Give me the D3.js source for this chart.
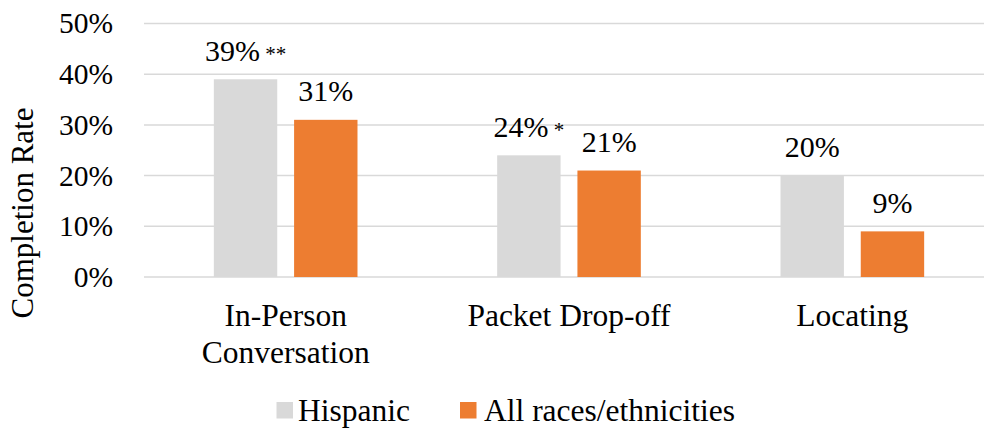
<!DOCTYPE html>
<html><head><meta charset="utf-8">
<script src="https://cdn.jsdelivr.net/npm/d3@7"></script>
<style>body{margin:0;background:#fff}svg{display:block}</style>
</head><body>
<svg id="c" width="984" height="430"></svg>
<script>
const categories = [["In-Person","Conversation"],["Packet Drop-off"],["Locating"]];
const seriesNames = ["Hispanic","All races/ethnicities"];
const hispanic = [39, 24, 20];
const allRaces = [31, 21, 9];
const hispanicMarks = ["**", "*", ""];
const allMarks = ["", "", ""];
const yTicks = [0, 10, 20, 30, 40, 50];
const colors = ["#D9D9D9", "#ED7D31"];

const FONT = "'Liberation Serif', 'Times New Roman', serif";
const svg = d3.select("#c").style("font-family", FONT);
const y = d3.scaleLinear().domain([0, 50]).range([277, 23.5]);
const x0 = d3.scaleBand().domain(d3.range(categories.length)).range([144, 994]).paddingInner(0.493).paddingOuter(0.2465);
const x1 = d3.scaleBand().domain([0, 1]).range([0, x0.bandwidth()]).paddingInner(0.21);

// gridlines
svg.append("g").selectAll("line").data(yTicks).join("line")
  .attr("x1", 144).attr("x2", 984)
  .attr("y1", d => y(d)).attr("y2", d => y(d))
  .attr("stroke", "#D9D9D9").attr("stroke-width", 1.5);

// y axis
const yAxis = d3.axisLeft(y).tickValues(yTicks).tickFormat(d => d + "%").tickSize(0).tickPadding(0);
const ya = svg.append("g").attr("transform", "translate(113,0)").call(yAxis);
ya.attr("font-family", null).attr("font-size", null);
ya.select(".domain").remove();
ya.selectAll("text").style("font-size", "29.5px").style("font-family", FONT).attr("fill", "#000");

// y title
svg.append("text").attr("transform", "translate(33,213) rotate(-90)")
  .attr("text-anchor", "middle").style("font-family", FONT).style("font-size", "31px").text("Completion Rate");

const series = [hispanic, allRaces];
const marks = [hispanicMarks, allMarks];
series.forEach((vals, s) => {
  const g = svg.append("g");
  g.selectAll("rect").data(vals).join("rect")
    .attr("x", (d, i) => x0(i) + x1(s)).attr("width", x1.bandwidth())
    .attr("y", d => y(d)).attr("height", d => y(0) - y(d))
    .attr("fill", colors[s]);
  const t = g.selectAll("text").data(vals).join("text")
    .attr("x", (d, i) => x0(i) + x1(s) + x1.bandwidth() / 2)
    .attr("y", d => y(d) - 18.7)
    .attr("text-anchor", "middle").style("font-family", FONT).style("font-size", "30px");
  t.append("tspan").text(d => d + "%");
  t.filter((d, i) => marks[s][i] !== "").append("tspan").style("font-size", "21px").text((d, i) => " " + marks[s][i]);
});

// x labels
const xl = svg.append("g").selectAll("text").data(categories).join("text")
  .attr("text-anchor", "middle").style("font-family", FONT).style("font-size", "31.5px")
  .attr("x", (d, i) => x0(i) + x0.bandwidth() / 2).attr("y", 325.5);
xl.selectAll("tspan").data(d => d).join("tspan")
  .attr("x", function() { return d3.select(this.parentNode).attr("x"); })
  .attr("dy", (d, i) => i === 0 ? 0 : 37.5).text(d => d);

// legend
const leg = [{x: 276.5, tx: 298}, {x: 460, tx: 484}];
seriesNames.forEach((n, i) => {
  svg.append("rect").attr("x", leg[i].x).attr("y", 402).attr("width", 16.5).attr("height", 16.5).attr("fill", colors[i]);
  svg.append("text").attr("x", leg[i].tx).attr("y", 420.5).style("font-family", FONT).style("font-size", "31.5px").text(n);
});
</script>
</body></html>
